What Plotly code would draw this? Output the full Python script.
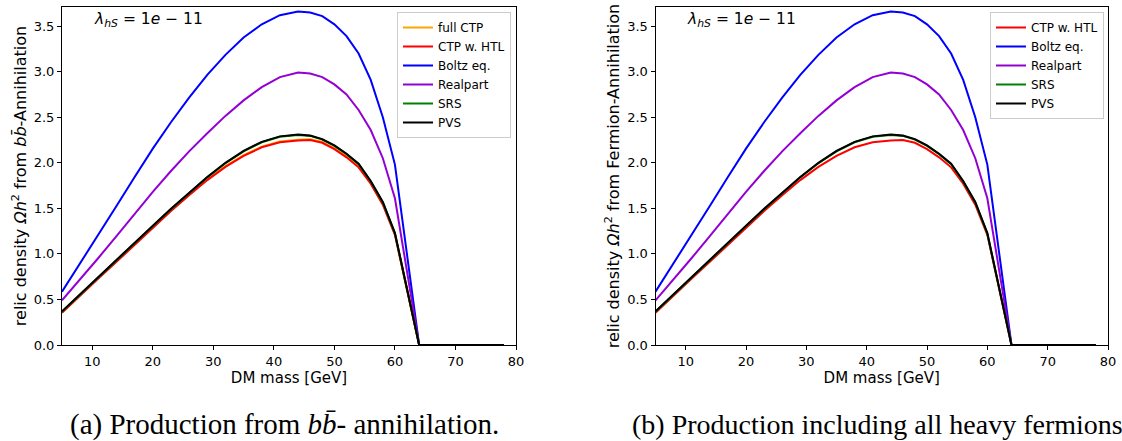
import plotly.graph_objects as go

# ---------------- data ----------------
mass_gev = [5, 8, 11, 14, 17, 20, 23, 26, 29, 32, 35, 38, 41, 44, 46, 48, 50, 52, 54, 56, 58, 60, 64, 68, 72, 78]

# (a) b bbar annihilation
bb_full_ctp = [0.362, 0.553, 0.738, 0.921, 1.108, 1.298, 1.478, 1.653, 1.818, 1.963, 2.083, 2.178, 2.233, 2.253, 2.258, 2.228, 2.158, 2.068, 1.958, 1.778, 1.548, 1.215, 0, 0, 0, 0]
bb_ctp_htl = [0.355, 0.545, 0.73, 0.913, 1.10, 1.29, 1.47, 1.645, 1.81, 1.955, 2.075, 2.17, 2.225, 2.245, 2.25, 2.22, 2.15, 2.06, 1.95, 1.77, 1.54, 1.21, 0, 0, 0, 0]
bb_boltz = [0.585, 0.895, 1.205, 1.525, 1.845, 2.155, 2.445, 2.715, 2.965, 3.185, 3.375, 3.52, 3.62, 3.66, 3.65, 3.61, 3.52, 3.39, 3.20, 2.91, 2.50, 1.98, 0, 0, 0, 0]
bb_realpart = [0.49, 0.72, 0.955, 1.195, 1.44, 1.68, 1.91, 2.125, 2.325, 2.515, 2.685, 2.83, 2.94, 2.99, 2.98, 2.94, 2.86, 2.75, 2.58, 2.36, 2.05, 1.61, 0, 0, 0, 0]
bb_srs = [0.365, 0.555, 0.74, 0.925, 1.115, 1.305, 1.49, 1.67, 1.84, 1.995, 2.125, 2.225, 2.285, 2.305, 2.295, 2.255, 2.185, 2.095, 1.985, 1.795, 1.565, 1.225, 0, 0, 0, 0]
bb_pvs = [0.37, 0.56, 0.745, 0.93, 1.12, 1.31, 1.495, 1.675, 1.845, 2.00, 2.13, 2.23, 2.29, 2.31, 2.30, 2.26, 2.19, 2.10, 1.99, 1.80, 1.57, 1.23, 0, 0, 0, 0]

# (b) all heavy fermions
ferm_ctp_htl = [0.355, 0.545, 0.73, 0.913, 1.10, 1.29, 1.47, 1.645, 1.81, 1.955, 2.075, 2.17, 2.225, 2.245, 2.25, 2.22, 2.15, 2.06, 1.95, 1.77, 1.54, 1.21, 0, 0, 0, 0]
ferm_boltz = [0.585, 0.895, 1.205, 1.525, 1.845, 2.155, 2.445, 2.715, 2.965, 3.185, 3.375, 3.52, 3.62, 3.66, 3.65, 3.61, 3.52, 3.39, 3.20, 2.91, 2.50, 1.98, 0, 0, 0, 0]
ferm_realpart = [0.49, 0.72, 0.955, 1.195, 1.44, 1.68, 1.91, 2.125, 2.325, 2.515, 2.685, 2.83, 2.94, 2.99, 2.98, 2.94, 2.86, 2.75, 2.58, 2.36, 2.05, 1.61, 0, 0, 0, 0]
ferm_srs = [0.365, 0.555, 0.74, 0.925, 1.115, 1.305, 1.49, 1.67, 1.84, 1.995, 2.125, 2.225, 2.285, 2.305, 2.295, 2.255, 2.185, 2.095, 1.985, 1.795, 1.565, 1.225, 0, 0, 0, 0]
ferm_pvs = [0.37, 0.56, 0.745, 0.93, 1.12, 1.31, 1.495, 1.675, 1.845, 2.00, 2.13, 2.23, 2.29, 2.31, 2.30, 2.26, 2.19, 2.10, 1.99, 1.80, 1.57, 1.23, 0, 0, 0, 0]

x_ticks = [10, 20, 30, 40, 50, 60, 70, 80]
y_ticks = [0.0, 0.5, 1.0, 1.5, 2.0, 2.5, 3.0, 3.5]

# ---------------- figure ----------------
W, H = 1122, 441
FONT = "DejaVu Sans"

fig = go.Figure()

left_series = [
    ("full CTP", bb_full_ctp, "orange"),
    ("CTP w. HTL", bb_ctp_htl, "red"),
    ("Boltz eq.", bb_boltz, "blue"),
    ("Realpart", bb_realpart, "darkviolet"),
    ("SRS", bb_srs, "green"),
    ("PVS", bb_pvs, "black"),
]
right_series = [
    ("CTP w. HTL", ferm_ctp_htl, "red"),
    ("Boltz eq.", ferm_boltz, "blue"),
    ("Realpart", ferm_realpart, "darkviolet"),
    ("SRS", ferm_srs, "green"),
    ("PVS", ferm_pvs, "black"),
]

for name, ys, col in left_series:
    fig.add_trace(go.Scatter(x=mass_gev, y=ys, mode="lines", name=name,
                             line=dict(color=col, width=2),
                             xaxis="x", yaxis="y", legend="legend"))
for name, ys, col in right_series:
    fig.add_trace(go.Scatter(x=mass_gev, y=ys, mode="lines", name=name,
                             line=dict(color=col, width=2),
                             xaxis="x2", yaxis="y2", legend="legend2"))

ydom = [1 - 345 / H, 1 - 7 / H]

def xax(domain, anchor):
    return dict(domain=domain, anchor=anchor, range=[5, 80], tickvals=x_ticks,
                ticks="outside", ticklen=4, tickwidth=1, tickcolor="black",
                showline=True, mirror=True, linecolor="black", linewidth=1,
                showgrid=False, zeroline=False, automargin=False,
                tickfont=dict(family=FONT, size=13, color="black"),
                title=dict(text="DM mass [GeV]", font=dict(family=FONT, size=15, color="black"),
                           standoff=2))

def yax(anchor, title):
    return dict(domain=ydom, anchor=anchor, range=[0, 3.71], tickvals=y_ticks,
                tickformat=".1f",
                ticks="outside", ticklen=4, tickwidth=1, tickcolor="black",
                showline=True, mirror=True, linecolor="black", linewidth=1,
                showgrid=False, zeroline=False, automargin=False,
                tickfont=dict(family=FONT, size=13, color="black"),
                title=dict(text=title, font=dict(family=FONT, size=16, color="black"),
                           standoff=3))

legend_common = dict(bgcolor="rgba(255,255,255,0.8)", bordercolor="#cccccc", borderwidth=1,
                     font=dict(family=FONT, size=12, color="black"),
                     xanchor="right", yanchor="top", tracegroupgap=0)

fig.update_layout(
    width=W, height=H,
    margin=dict(l=0, r=0, t=0, b=0, autoexpand=False),
    paper_bgcolor="white", plot_bgcolor="white",
    xaxis=xax([62 / W, 516 / W], "y"),
    yaxis=yax("x", "relic density <i>Ωh</i><sup>2</sup> from <i>bb̄</i>-Annihilation"),
    xaxis2=xax([655.5 / W, 1108 / W], "y2"),
    yaxis2=yax("x2", "relic density <i>Ωh</i><sup>2</sup> from Fermion-Annihilation"),
    legend=dict(x=511 / W, y=1 - 12 / H, **legend_common),
    legend2=dict(x=1104 / W, y=1 - 12 / H, **legend_common),
    showlegend=True,
)

lam_text = "<i>λ</i><sub><i>hS</i></sub> = 1<i>e</i> − 11"
for xp in (92, 685):
    fig.add_annotation(text=lam_text, xref="paper", yref="paper", x=xp / W, y=1 - 20 / H,
                       xanchor="left", yanchor="middle", showarrow=False,
                       font=dict(family=FONT, size=15.5, color="black"))

captions = [
    (68, "(a) Production from <i>bb̄</i>- annihilation.", 29),
    (630, "(b) Production including all heavy fermions.", 28),
]
for xp, txt, sz in captions:
    fig.add_annotation(text=txt, xref="paper", yref="paper", x=xp / W, y=1 - 424 / H,
                       xanchor="left", yanchor="middle", showarrow=False,
                       font=dict(family="Liberation Serif", size=sz, color="black"))

fig.write_html("out.html")
